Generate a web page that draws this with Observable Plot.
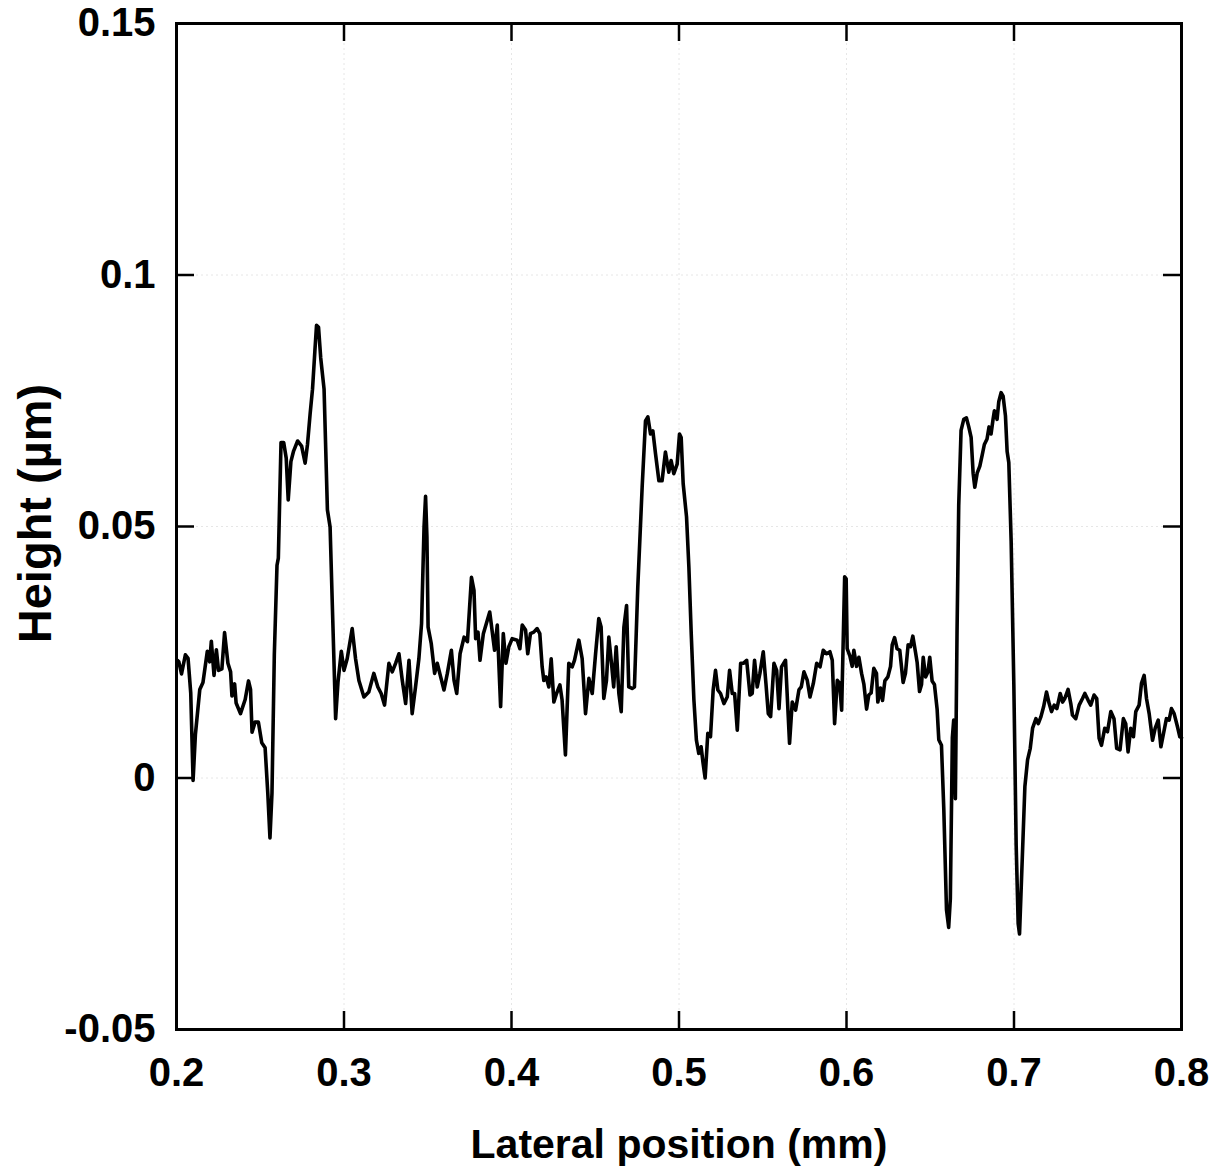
<!DOCTYPE html>
<html>
<head>
<meta charset="utf-8">
<script src="https://cdn.jsdelivr.net/npm/d3@7"></script>
<script src="https://cdn.jsdelivr.net/npm/@observablehq/plot@0.6"></script>
<style>
  html, body { margin: 0; padding: 0; background: #fff; }
  #chart svg { display: block; }
</style>
</head>
<body>
<div id="chart"></div>
<script>
const xTitle = "Lateral position (mm)";
const yTitle = "Height (µm)";
const xTicks = [0.2, 0.3, 0.4, 0.5, 0.6, 0.7, 0.8];
const yTicks = [-0.05, 0, 0.05, 0.1, 0.15];

const positionMm = [
  0.2005,0.2014,0.2030,0.2053,0.2069,0.2085,0.2099,0.2113,0.2139,0.2158,0.2184,0.2198,0.2208,0.2224,0.2238,0.2251,0.2271,0.2287,0.2307,0.2323,
  0.2331,0.2347,0.2356,0.2382,0.2410,0.2430,0.2442,0.2451,0.2469,0.2489,0.2509,0.2529,0.2545,0.2558,0.2570,0.2584,0.2600,0.2608,0.2624,0.2640,
  0.2655,0.2667,0.2683,0.2699,0.2723,0.2747,0.2768,0.2782,0.2798,0.2812,0.2826,0.2836,0.2848,0.2861,0.2881,0.2901,0.2917,0.2933,0.2950,0.2964,
  0.2984,0.3000,0.3019,0.3049,0.3069,0.3089,0.3119,0.3148,0.3178,0.3202,0.3222,0.3242,0.3268,0.3288,0.3308,0.3328,0.3348,0.3368,0.3388,0.3407,
  0.3427,0.3447,0.3463,0.3478,0.3487,0.3495,0.3502,0.3521,0.3541,0.3557,0.3577,0.3597,0.3617,0.3641,0.3657,0.3673,0.3693,0.3717,0.3737,0.3761,
  0.3776,0.3786,0.3800,0.3812,0.3832,0.3870,0.3899,0.3915,0.3935,0.3951,0.3967,0.3984,0.4004,0.4034,0.4050,0.4064,0.4084,0.4097,0.4113,0.4133,
  0.4153,0.4169,0.4183,0.4193,0.4207,0.4223,0.4237,0.4253,0.4269,0.4289,0.4302,0.4322,0.4342,0.4362,0.4376,0.4402,0.4422,0.4442,0.4462,0.4482,
  0.4502,0.4521,0.4535,0.4551,0.4567,0.4581,0.4597,0.4610,0.4625,0.4641,0.4655,0.4671,0.4687,0.4700,0.4720,0.4734,0.4754,0.4780,0.4800,0.4814,
  0.4830,0.4844,0.4860,0.4880,0.4899,0.4919,0.4939,0.4953,0.4969,0.4989,0.5003,0.5013,0.5025,0.5045,0.5059,0.5073,0.5089,0.5104,0.5118,0.5132,
  0.5144,0.5156,0.5172,0.5188,0.5204,0.5218,0.5232,0.5248,0.5268,0.5288,0.5302,0.5318,0.5332,0.5348,0.5368,0.5384,0.5404,0.5424,0.5437,0.5451,
  0.5467,0.5483,0.5503,0.5519,0.5533,0.5547,0.5567,0.5583,0.5597,0.5612,0.5636,0.5660,0.5676,0.5696,0.5716,0.5730,0.5746,0.5766,0.5782,0.5802,
  0.5822,0.5842,0.5861,0.5881,0.5901,0.5915,0.5929,0.5945,0.5959,0.5971,0.5989,0.5998,0.6004,0.6020,0.6034,0.6044,0.6060,0.6074,0.6090,0.6104,
  0.6120,0.6133,0.6147,0.6163,0.6179,0.6187,0.6203,0.6215,0.6229,0.6247,0.6263,0.6273,0.6287,0.6302,0.6318,0.6338,0.6352,0.6368,0.6382,0.6396,
  0.6412,0.6422,0.6436,0.6448,0.6458,0.6472,0.6486,0.6497,0.6511,0.6525,0.6541,0.6551,0.6567,0.6581,0.6597,0.6610,0.6620,0.6632,0.6640,0.6650,
  0.6660,0.6670,0.6684,0.6700,0.6716,0.6730,0.6744,0.6756,0.6766,0.6780,0.6796,0.6810,0.6823,0.6839,0.6851,0.6863,0.6875,0.6883,0.6899,0.6909,
  0.6923,0.6935,0.6949,0.6959,0.6969,0.6983,0.6999,0.7013,0.7025,0.7033,0.7065,0.7081,0.7097,0.7111,0.7131,0.7145,0.7161,0.7177,0.7194,0.7210,
  0.7224,0.7240,0.7256,0.7276,0.7290,0.7303,0.7323,0.7339,0.7349,0.7369,0.7389,0.7409,0.7423,0.7442,0.7458,0.7478,0.7494,0.7508,0.7522,0.7542,
  0.7558,0.7578,0.7597,0.7613,0.7633,0.7653,0.7667,0.7681,0.7697,0.7713,0.7727,0.7747,0.7761,0.7777,0.7791,0.7807,0.7827,0.7843,0.7861,0.7877,
  0.7893,0.7910,0.7926,0.7940,0.7956,0.7976,0.7990,0.8000
];

const heightUm = [
  0.0234,0.0231,0.0207,0.0245,0.0238,0.0169,-0.0005,0.0087,0.0176,0.0190,0.0252,0.0231,0.0272,0.0204,0.0255,0.0214,0.0217,0.0289,0.0228,0.0211,
  0.0163,0.0187,0.0149,0.0128,0.0156,0.0193,0.0176,0.0091,0.0111,0.0111,0.0070,0.0060,-0.0030,-0.0119,-0.0030,0.0245,0.0423,0.0437,0.0667,0.0667,
  0.0636,0.0553,0.0629,0.0650,0.0670,0.0660,0.0626,0.0663,0.0725,0.0773,0.0848,0.0900,0.0896,0.0835,0.0773,0.0533,0.0499,0.0313,0.0118,0.0190,
  0.0252,0.0214,0.0237,0.0297,0.0237,0.0194,0.0161,0.0171,0.0208,0.0181,0.0168,0.0145,0.0228,0.0211,0.0228,0.0247,0.0194,0.0148,0.0234,0.0128,
  0.0181,0.0237,0.0307,0.0500,0.0560,0.0480,0.0300,0.0267,0.0208,0.0228,0.0201,0.0175,0.0208,0.0254,0.0194,0.0168,0.0247,0.0280,0.0271,0.0399,
  0.0373,0.0277,0.0290,0.0234,0.0287,0.0330,0.0254,0.0304,0.0142,0.0287,0.0228,0.0261,0.0277,0.0274,0.0257,0.0304,0.0294,0.0247,0.0287,0.0290,
  0.0297,0.0287,0.0221,0.0194,0.0201,0.0181,0.0237,0.0151,0.0168,0.0185,0.0155,0.0046,0.0228,0.0221,0.0234,0.0274,0.0237,0.0128,0.0198,0.0168,
  0.0247,0.0317,0.0300,0.0158,0.0194,0.0280,0.0228,0.0181,0.0261,0.0168,0.0132,0.0300,0.0343,0.0181,0.0178,0.0181,0.0380,0.0578,0.0710,0.0718,
  0.0684,0.0690,0.0644,0.0591,0.0591,0.0648,0.0608,0.0631,0.0605,0.0624,0.0684,0.0677,0.0585,0.0519,0.0419,0.0287,0.0155,0.0075,0.0049,0.0062,
  0.0029,0.0000,0.0089,0.0082,0.0175,0.0214,0.0175,0.0168,0.0148,0.0161,0.0214,0.0168,0.0168,0.0095,0.0228,0.0228,0.0234,0.0165,0.0168,0.0234,
  0.0181,0.0208,0.0251,0.0188,0.0128,0.0122,0.0228,0.0214,0.0138,0.0221,0.0234,0.0069,0.0151,0.0135,0.0175,0.0181,0.0211,0.0194,0.0161,0.0188,
  0.0228,0.0221,0.0254,0.0247,0.0251,0.0234,0.0108,0.0194,0.0188,0.0135,0.0400,0.0396,0.0257,0.0243,0.0222,0.0254,0.0222,0.0240,0.0208,0.0186,
  0.0137,0.0165,0.0169,0.0218,0.0208,0.0151,0.0179,0.0154,0.0193,0.0201,0.0222,0.0265,0.0279,0.0257,0.0254,0.0190,0.0208,0.0265,0.0261,0.0282,
  0.0250,0.0229,0.0172,0.0186,0.0240,0.0201,0.0211,0.0240,0.0193,0.0186,0.0137,0.0076,0.0065,-0.0063,-0.0262,-0.0297,-0.0240,0.0080,0.0115,-0.0041,
  0.0293,0.0542,0.0691,0.0713,0.0716,0.0698,0.0677,0.0606,0.0578,0.0606,0.0620,0.0642,0.0663,0.0674,0.0698,0.0684,0.0713,0.0730,0.0713,0.0748,
  0.0766,0.0759,0.0720,0.0649,0.0627,0.0471,0.0186,-0.0134,-0.0290,-0.0310,-0.0017,0.0036,0.0059,0.0099,0.0118,0.0108,0.0122,0.0142,0.0171,0.0148,
  0.0132,0.0145,0.0138,0.0168,0.0151,0.0158,0.0176,0.0148,0.0125,0.0118,0.0145,0.0158,0.0168,0.0155,0.0145,0.0165,0.0158,0.0079,0.0065,0.0099,
  0.0092,0.0132,0.0118,0.0059,0.0056,0.0118,0.0108,0.0052,0.0099,0.0082,0.0132,0.0145,0.0188,0.0204,0.0158,0.0128,0.0075,0.0099,0.0115,0.0062,
  0.0089,0.0118,0.0115,0.0138,0.0128,0.0102,0.0082,0.0080
];

const W = 1224, H = 1172;
const mL = 176, mR = 43, mT = 23, mB = 143;
const plotW = W - mL - mR, plotH = H - mT - mB;
const tickLen = 18;
const font = "'Liberation Sans', Arial, Helvetica, sans-serif";

const chart = Plot.plot({
  width: W,
  height: H,
  marginLeft: mL,
  marginRight: mR,
  marginTop: mT,
  marginBottom: mB,
  x: {domain: [0.2, 0.8], ticks: xTicks},
  y: {domain: [-0.05, 0.15], ticks: yTicks},
  style: {fontFamily: font, background: "white", color: "black"},
  marks: [
    Plot.gridX(xTicks, {stroke: "#e6e6e6", strokeOpacity: 1, strokeDasharray: "2,3"}),
    Plot.gridY(yTicks, {stroke: "#e6e6e6", strokeOpacity: 1, strokeDasharray: "2,3"}),
    Plot.line({length: positionMm.length}, {x: positionMm, y: heightUm, stroke: "black", strokeWidth: 3.6, strokeLinejoin: "round"}),
    // inward ticks on all four sides
    Plot.ruleX(xTicks, {x: d => d, insetTop: plotH - tickLen, stroke: "black", strokeWidth: 2.5}),
    Plot.ruleX(xTicks, {x: d => d, insetBottom: plotH - tickLen, stroke: "black", strokeWidth: 2.5}),
    Plot.ruleY(yTicks, {y: d => d, insetRight: plotW - tickLen, stroke: "black", strokeWidth: 2.5}),
    Plot.ruleY(yTicks, {y: d => d, insetLeft: plotW - tickLen, stroke: "black", strokeWidth: 2.5}),
    Plot.frame({stroke: "black", strokeWidth: 3}),
    Plot.axisX(xTicks, {
      anchor: "bottom", tickSize: 0, tickPadding: 28,
      tickFormat: d => d.toFixed(1),
      fontSize: 40, fontWeight: "bold", label: null
    }),
    Plot.axisY(yTicks, {
      anchor: "left", tickSize: 0, tickPadding: 21,
      tickFormat: d => (d === 0 ? "0" : String(d)),
      fontSize: 40, fontWeight: "bold", label: null
    }),
    Plot.text([xTitle], {
      text: d => d, frameAnchor: "bottom", lineAnchor: "bottom",
      dy: 128, fontSize: 41, fontWeight: "bold", fill: "black"
    }),
    Plot.text([yTitle], {
      text: d => d, frameAnchor: "left", textAnchor: "middle", rotate: -90,
      dx: -141, dy: -13, fontSize: 47, fontWeight: "bold", fill: "black"
    })
  ]
});

document.getElementById("chart").appendChild(chart);
</script>
</body>
</html>
